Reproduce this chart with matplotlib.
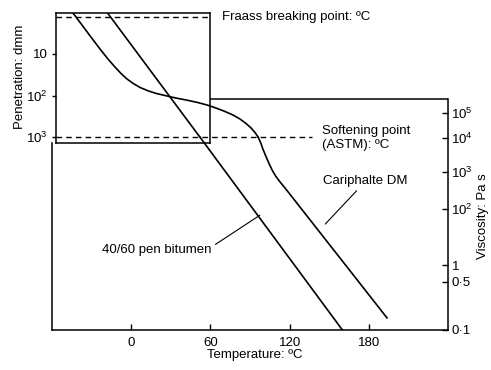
import numpy as np
import matplotlib
matplotlib.use("Agg")
import matplotlib.pyplot as plt

plt.rcParams['font.family'] = ['Liberation Sans', 'DejaVu Sans']
plt.rcParams['mathtext.fontset'] = 'custom'
plt.rcParams['mathtext.rm'] = 'Liberation Sans'
plt.rcParams['mathtext.it'] = 'Liberation Sans:italic'
plt.rcParams['mathtext.bf'] = 'Liberation Sans:bold'

# ---------------- data ----------------
temp_ticks = [0, 60, 120, 180]
pen_ticks = [10, 100, 1000]
pen_tick_labels = ['10', r'$\mathregular{10^2}$', r'$\mathregular{10^3}$']
visc_ticks = [0.1, 0.5, 1, 1e2, 1e3, 1e4, 1e5]
visc_tick_labels = ['0·1', '0·5', '1', r'$\mathregular{10^2}$', r'$\mathregular{10^3}$',
                    r'$\mathregular{10^4}$', r'$\mathregular{10^5}$']

# 40/60 pen bitumen (penetration region, then viscosity region)
b4060_pen_T = [-18.2, 52.0]
b4060_pen = [1.0, 1000.0]
b4060_visc_T = [52.0, 160.0]
b4060_visc = [1.1e4, 0.1]

# Cariphalte DM
cari_pen_T = [-44.4, -37.3, -30.5, -23.6, -17.6, -12.3, -7.7, -3.2, 1.4, 6.7, 12.7, 18.8,
              25.6, 33.2, 41.5, 49.8, 57.4, 64.2, 71.1, 77.1, 82.4, 87.0, 90.8, 93.8, 96.1]
cari_pen = [1.0, 2.0, 3.9, 7.6, 13.2, 20.6, 29.5, 40, 51, 64, 77, 89,
            100, 114, 128, 146, 169, 200, 243, 295, 368, 473, 607, 780, 1000]
cari_visc_T = [96.1, 98.0, 99.8, 102.1, 104.4, 106.7, 109.3, 112.3, 115.8, 119.5, 193.8]
cari_visc = [1.1e4, 7.4e3, 4.7e3, 2.86e3, 1.78e3, 1.15e3, 789, 564, 398, 271, 0.15]

fraass_pen = 1.25
softening_pen = 1000

# ---------------- layout ----------------
W, H = 491, 370
fig = plt.figure(figsize=(W / 100, H / 100), dpi=100)
fig.patch.set_facecolor('white')

def fp(x, y):
    return (x / W, 1 - y / H)

left_px, right_px, top_px, bot_px = 52, 448, 12.5, 330
rect = [left_px / W, 1 - bot_px / H, (right_px - left_px) / W, (bot_px - top_px) / H]

# viscosity scale calibration (log10 viscosity -> height above x axis, px)
cal_log = [-2, -1, np.log10(0.5), 0, 2, 3, 4, 5, 10]
cal_h = [-70, 0, 48, 65, 121, 158, 192, 217, 342]

def v_fwd(v):
    v = np.clip(np.asarray(v, dtype=float), 1e-12, None)
    return np.interp(np.log10(v), cal_log, cal_h)

def v_inv(h):
    return 10 ** np.interp(np.asarray(h, dtype=float), cal_h, cal_log)

ax = fig.add_axes(rect)
ax.set_xlim(-60, 240)
ax.set_yscale('function', functions=(v_fwd, v_inv))
ax.set_ylim(0.1, float(v_inv(bot_px - top_px)))
ax.patch.set_visible(False)

lw_frame = 1.1
box_top_v = 3.6e5
ax.spines['top'].set_visible(False)
for s in ['left', 'right', 'bottom']:
    ax.spines[s].set_linewidth(lw_frame)
ax.spines['left'].set_bounds(0.1, 7e3)
ax.spines['right'].set_bounds(0.1, box_top_v)
ax.hlines(box_top_v, 60, 240, color='black', lw=lw_frame, clip_on=False)

ax.xaxis.set_major_locator(matplotlib.ticker.FixedLocator(temp_ticks))
ax.xaxis.set_minor_locator(matplotlib.ticker.NullLocator())
ax.set_xticklabels([str(t) for t in temp_ticks])
ax.yaxis.set_major_locator(matplotlib.ticker.FixedLocator(visc_ticks))
ax.yaxis.set_minor_locator(matplotlib.ticker.NullLocator())
ax.set_yticklabels(visc_tick_labels)
ax.tick_params(axis='x', direction='in', length=4, width=1, pad=5, labelsize=9.5)
ax.tick_params(axis='y', left=False, labelleft=False, right=True, labelright=True,
               direction='in', length=4, width=1, pad=2.5, labelsize=9.5)

# penetration axes
axp = fig.add_axes(rect)
axp.set_xlim(-60, 240)
axp.set_yscale('log')
axp.set_ylim(10 ** ((bot_px - top_px) / 41.5), 1)
axp.patch.set_visible(False)
inset_left, inset_right, inset_bottom = -57.2, 60, 1400
axp.spines['left'].set_position(('data', inset_left))
axp.spines['left'].set_bounds(inset_bottom, 1)
axp.spines['right'].set_position(('data', inset_right))
axp.spines['right'].set_bounds(inset_bottom, 1)
axp.spines['top'].set_bounds(inset_left, inset_right)
axp.spines['bottom'].set_position(('data', inset_bottom))
axp.spines['bottom'].set_bounds(inset_left, inset_right)
for s in axp.spines.values():
    s.set_linewidth(lw_frame)
axp.set_xticks([])
axp.yaxis.set_major_locator(matplotlib.ticker.FixedLocator(pen_ticks))
axp.yaxis.set_minor_locator(matplotlib.ticker.NullLocator())
axp.set_yticklabels(pen_tick_labels)
axp.tick_params(axis='y', left=True, right=False, direction='out', length=3, width=1,
                pad=3, labelsize=9.5)

# reference lines
dash = (0, (4, 3))
axp.hlines(fraass_pen, inset_left, inset_right, color='black', lw=1, linestyles=[dash])
axp.hlines(softening_pen, inset_left, 137, color='black', lw=1, linestyles=[dash])

# curves
lw_c = 1.2
axp.plot(b4060_pen_T, b4060_pen, color='black', lw=lw_c)
ax.plot(b4060_visc_T, b4060_visc, color='black', lw=lw_c)
axp.plot(cari_pen_T, cari_pen, color='black', lw=lw_c, solid_joinstyle='round')
ax.plot(cari_visc_T, cari_visc, color='black', lw=lw_c, solid_joinstyle='round')

# texts
fs = 9.5
fig.text(*fp(222, 17), 'Fraass breaking point: ºC', ha='left', va='center', fontsize=fs)
fig.text(*fp(322, 138), 'Softening point\n(ASTM): ºC', ha='left', va='center',
         fontsize=fs, linespacing=1.25)
ax.annotate('Cariphalte DM', xy=(147, 29), xycoords='data',
            xytext=fp(323, 181), textcoords='figure fraction', ha='left', va='center',
            fontsize=fs,
            arrowprops=dict(arrowstyle='-', color='black', lw=0.8, relpos=(0.44, 0.0),
                            shrinkA=1, shrinkB=0))
ax.annotate('40/60 pen bitumen', xy=(97.5, 60), xycoords='data',
            xytext=fp(102, 250), textcoords='figure fraction', ha='left', va='center',
            fontsize=fs,
            arrowprops=dict(arrowstyle='-', color='black', lw=0.8, relpos=(1.0, 0.75),
                            shrinkA=1, shrinkB=0))

fig.text(*fp(20, 77), 'Penetration: dmm', rotation=90, ha='center', va='center', fontsize=fs)
fig.text(*fp(483, 216), 'Viscosity: Pa s', rotation=90, ha='center', va='center', fontsize=fs)
fig.text(*fp(255, 355), 'Temperature: ºC', ha='center', va='center', fontsize=fs)

fig.savefig('out.png', dpi=100, facecolor='white')
